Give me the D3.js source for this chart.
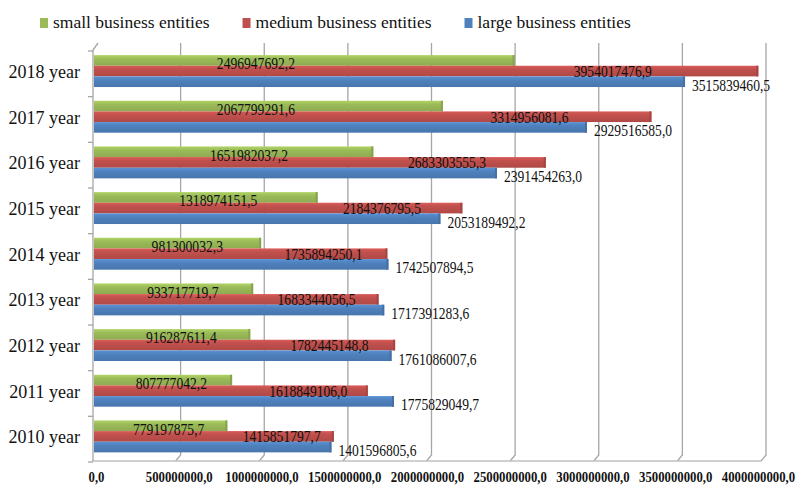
<!DOCTYPE html>
<html><head><meta charset="utf-8">
<script src="https://cdn.jsdelivr.net/npm/d3@7"></script>
<style>body{margin:0;background:#fff}svg{display:block}</style>
</head><body><svg id="c" width="796" height="486"></svg>
<script>
const categories = ["2018 year","2017 year","2016 year","2015 year","2014 year","2013 year","2012 year","2011 year","2010 year"];
const seriesNames = ["small business entities","medium business entities","large business entities"];
const small  = [2496947692.2, 2067799291.6, 1651982037.2, 1318974151.5, 981300032.3, 933717719.7, 916287611.4, 807777042.2, 779197875.7];
const medium = [3954017476.9, 3314956081.6, 2683303555.3, 2184376795.5, 1735894250.1, 1683344056.5, 1782445148.8, 1618849106.0, 1415851797.7];
const large  = [3515839460.5, 2929516585.0, 2391454263.0, 2053189492.2, 1742507894.5, 1717391283.6, 1761086007.6, 1775829049.7, 1401596805.6];
const tickValues = [0, 500000000, 1000000000, 1500000000, 2000000000, 2500000000, 3000000000, 3500000000, 4000000000];
const colors = ["#9BBB59", "#C0504D", "#4F81BD"];

const series = [small, medium, large];
const fmt = v => d3.format(".1f")(v).replace(".", ",");
const svg = d3.select("#c");
const serif = "'Liberation Serif','Times New Roman',serif";

// scales: back plane (x), front plane (xf), axis label scale (xl)
const x = d3.scaleLinear().domain([0, 4000000000]).range([97, 766]);
const xf = d3.scaleLinear().domain([0, 4000000000]).range([92, 761]);
const xl = d3.scaleLinear().domain([0, 4000000000]).range([96, 758]);
const y = d3.scaleBand().domain(categories).range([51, 462]);
const bw = y.bandwidth();
const bh = bw * 0.233;

// gradients
const defs = svg.append("defs");
colors.forEach((c, i) => {
  const g = defs.append("linearGradient").attr("id", "g" + i).attr("x1", 0).attr("x2", 0).attr("y1", 0).attr("y2", 1);
  g.append("stop").attr("offset", "0%").attr("stop-color", d3.color(c).brighter(0.35));
  g.append("stop").attr("offset", "35%").attr("stop-color", c);
  g.append("stop").attr("offset", "100%").attr("stop-color", d3.color(c).darker(0.25));
});

// gridlines with 3D feet
const grid = svg.append("g").attr("fill", "none").attr("stroke", "#a6a6a6").attr("stroke-width", 1.3);
tickValues.forEach(t => {
  if (t === 0) return;
  grid.append("path").attr("d", `M${x(t)},43 V455 L${xf(t)},461`);
});
grid.append("path").attr("d", `M${xf(0)},461 H${xf(4000000000)}`).attr("stroke", "#c0c0c0");
grid.append("path").attr("d", `M${x(0)+1},43 L${xf(0)+1},50 V461`);
categories.forEach(c => {
  grid.append("path").attr("d", `M${xf(0)-4},${y(c)} H${xf(0)+1}`);
});
grid.append("path").attr("d", `M${xf(0)-4},${y.range()[1]} H${xf(0)+1}`);

// bars
const bars = svg.append("g");
categories.forEach((c, i) => {
  const top = y(c) + bw * 0.09;
  series.forEach((s, j) => {
    const yy = top + j * bh;
    const x0 = xf(0) + 2, x1 = x(s[i]);
    bars.append("rect").attr("x", x0).attr("y", yy).attr("width", x1 - x0).attr("height", bh)
      .attr("fill", `url(#g${j})`);
    bars.append("rect").attr("x", x1 - 2).attr("y", yy).attr("width", 2).attr("height", bh)
      .attr("fill", d3.color(colors[j]).darker(0.4));
  });
});

// value labels
const labs = svg.append("g").attr("font-family", serif).attr("font-size", 17).attr("fill", "#111");
function lab(txt, px, py, anchor) {
  labs.append("text").attr("transform", `translate(${px},${py}) scale(0.8,1)`)
    .attr("text-anchor", anchor).attr("dy", "0.35em").text(txt);
}
categories.forEach((c, i) => {
  const top = y(c) + bw * 0.09;
  lab(fmt(small[i]), x(Math.min(small[i] * 0.55, 950000000)), top + bh * 0.5 + 3, "middle");
  lab(fmt(medium[i]), x(medium[i] * 0.78), top + bh * 1.5, "middle");
  lab(fmt(large[i]), x(large[i]) + 7, top + bh * 2.5 + 3, "start");
});

// category labels
const cat = svg.append("g").attr("font-family", serif).attr("font-size", 18).attr("fill", "#111");
categories.forEach(c => {
  cat.append("text").attr("x", 80).attr("y", y(c) + bw / 2 - 2).attr("dy", "0.35em")
    .attr("text-anchor", "end").text(c);
});

// x axis tick labels
const ax = svg.append("g").attr("transform", "translate(0,477)")
  .call(d3.axisBottom(xl).tickValues(tickValues).tickSize(0).tickFormat(fmt));
ax.select(".domain").remove();
ax.selectAll("text").attr("font-family", serif).attr("font-size", 14.5).attr("font-weight", "bold")
  .attr("fill", "#111").attr("y", 0).attr("dy", "0.35em")
  .attr("transform", "scale(0.88,1)");

// legend
const leg = svg.append("g").attr("font-family", serif).attr("font-size", 17.5).attr("fill", "#111");
let lx = 40;
seriesNames.forEach((n, j) => {
  leg.append("rect").attr("x", lx).attr("y", 18).attr("width", 8).attr("height", 10).attr("fill", colors[j]);
  const t = leg.append("text").attr("x", lx + 13).attr("y", 28).text(n);
  lx += 13 + t.node().getComputedTextLength() + 33;
});
</script>
</body></html>
